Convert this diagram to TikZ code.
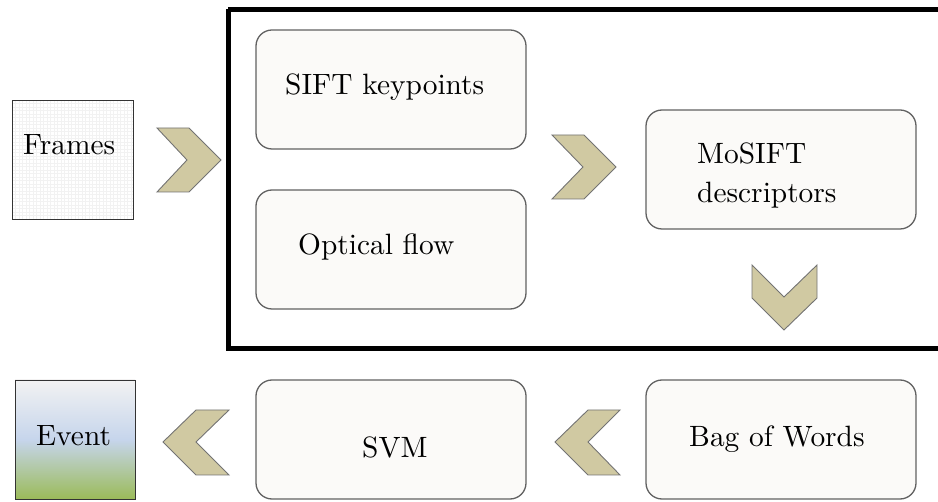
\documentclass[tikz,border=0pt]{standalone}
\usepackage{fontspec}
\usepackage{graphicx}
\newcommand{\myLab}[1]{\scalebox{2.94}{\fontsize{10}{12}\selectfont #1}}
\begin{document}
\begin{tikzpicture}[x=1pt,y=-1pt,
  rbox/.style={draw=black!62,line width=1.3pt,fill=boxfill,rounded corners=16pt},
  chev/.style={draw=black!55,line width=0.9pt,fill=chevfill,line join=miter},
  lbl/.style={anchor=base west,inner sep=0pt}]
\definecolor{chevfill}{HTML}{D0C9A2}
\definecolor{boxfill}{HTML}{FBFAF8}
\definecolor{evtop}{HTML}{F2F2F2}
\definecolor{evmid}{HTML}{C6D5EC}
\definecolor{evbot}{HTML}{9BBB59}
\useasboundingbox (0,0) rectangle (938,502);
\clip (0,0) rectangle (938,502);
% big frame
\draw[line width=5pt] (228,9.5) -- (950,9.5) (228,9.5) -- (228,348.5) -- (950,348.5);
% Frames box with grid
\fill[white] (12,100) rectangle (133,219);
\foreach \gx in {15.5,19,...,133} {\draw[black!5,line width=0.3pt] (\gx,100) -- (\gx,219);}
\foreach \gy in {103.5,107,...,219} {\draw[black!5,line width=0.3pt] (12,\gy) -- (133,\gy);}
\node[draw=black!80,line width=0.8pt,minimum width=121pt,minimum height=119pt,inner sep=0pt] (frames) at (72.5,159.5) {};
\node[lbl] (framest) at (23,155) {\myLab{Frames}};
% Event box with gradient
\shade[top color=evtop,bottom color=evbot,middle color=evmid] (15,380) rectangle (135,499);
\node[draw=black!80,line width=0.8pt,minimum width=120pt,minimum height=119pt,inner sep=0pt] (event) at (75,439.5) {};
\node[lbl] (eventt) at (36,446) {\myLab{Event}};
% rounded boxes
\node[rbox,minimum width=270pt,minimum height=119pt] (sift) at (391,89.5) {};
\node[lbl] (siftt) at (285,95) {\myLab{SIFT keypoints}};
\node[rbox,minimum width=270pt,minimum height=119pt] (optic) at (391,249.5) {};
\node[lbl] (optict) at (298,255) {\myLab{Optical flow}};
\node[rbox,minimum width=270pt,minimum height=119pt] (mosift) at (781,169.5) {};
\node[lbl] (mosiftt) at (697,164) {\myLab{MoSIFT}};
\node[lbl] (desct) at (697,203) {\myLab{descriptors}};
\node[rbox,minimum width=270pt,minimum height=119pt] (bow) at (781,439.5) {};
\node[lbl] (bowt) at (689,447) {\myLab{Bag of Words}};
\node[rbox,minimum width=270pt,minimum height=119pt] (svm) at (391,439.5) {};
\node[lbl] (svmt) at (362,458) {\myLab{SVM}};
% chevrons
\draw[chev] (157,128) -- (189,128) -- (221,160) -- (189,192) -- (157,192) -- (187,160) -- cycle;
\draw[chev] (552,135) -- (584,135) -- (616,167) -- (584,199) -- (552,199) -- (583,167) -- cycle;
\draw[chev] (752,265) -- (784,297) -- (817,265) -- (817,298) -- (784,330) -- (752,298) -- cycle;
\draw[chev] (620,410) -- (588,410) -- (555,442) -- (588,475) -- (620,475) -- (588,442) -- cycle;
\draw[chev] (229,410) -- (196,410) -- (163,442) -- (196,475) -- (229,475) -- (196,442) -- cycle;
\end{tikzpicture}
\end{document}
